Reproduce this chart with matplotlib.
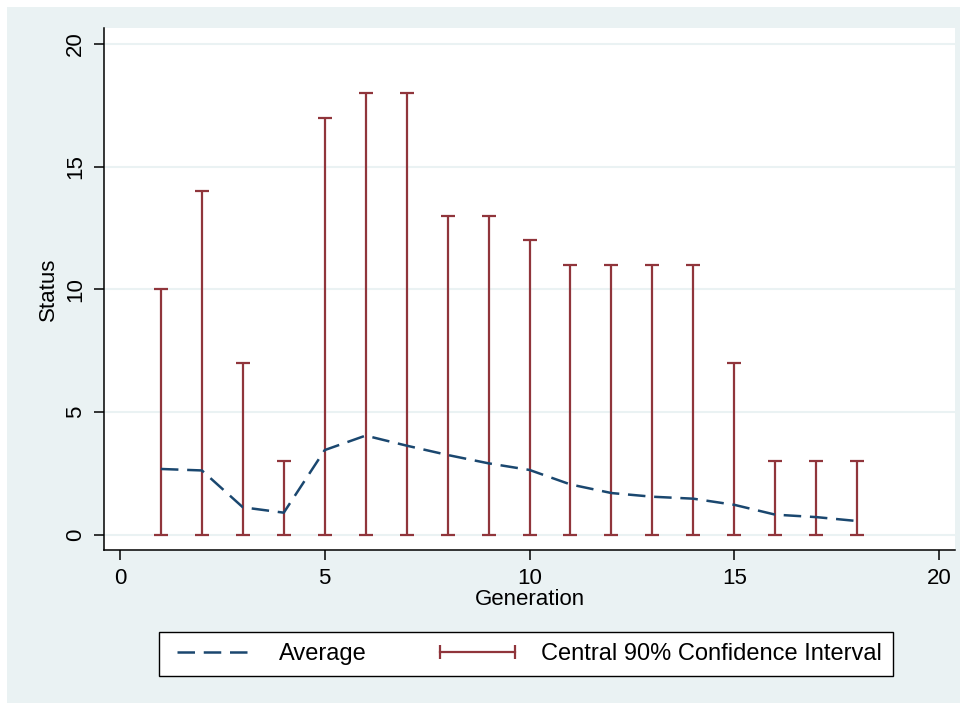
import matplotlib.pyplot as plt
from matplotlib.lines import Line2D
from matplotlib.patches import Rectangle

# data
generation = list(range(1, 19))
average = [2.69, 2.63, 1.13, 0.91, 3.46, 4.05, 3.64, 3.26, 2.92, 2.65,
           2.06, 1.71, 1.56, 1.48, 1.23, 0.83, 0.73, 0.57]
ci_low = [0] * 18
ci_high = [10, 14, 7, 3, 17, 18, 18, 13, 13, 12, 11, 11, 11, 11, 7, 3, 3, 3]

navy = '#1A476F'
maroon = '#90353B'
bg = '#EAF2F3'

plt.rcParams['font.family'] = ['Liberation Sans', 'DejaVu Sans']

fig = plt.figure(figsize=(9.67, 7.06), dpi=100)
fig.patch.set_facecolor('white')
# Stata-style background panel
fig.patches.append(Rectangle((7 / 967, 3 / 706), 953 / 967, 696 / 706,
                             transform=fig.transFigure, facecolor=bg,
                             edgecolor='none', zorder=-10))

ax = fig.add_axes([104 / 967, 1 - 550 / 706, 851 / 967, 522 / 706])
ax.set_facecolor('white')

ax.vlines(generation, ci_low, ci_high, color=maroon, lw=1.6, zorder=2)
ax.scatter(generation, ci_high, marker='_', s=100, color=maroon, lw=1.6, zorder=2)
ax.scatter(generation, ci_low, marker='_', s=100, color=maroon, lw=1.6, zorder=2)
ax.plot(generation, average, color=navy, lw=1.8, dashes=(7, 3.5), zorder=3)

ax.set_xlim(-0.39, 20.39)
ax.set_ylim(-0.61, 20.65)
ax.set_xticks([0, 5, 10, 15, 20])
ax.set_yticks([0, 5, 10, 15, 20])
ax.yaxis.grid(True, color=bg, lw=1.5)
ax.set_axisbelow(True)
for side in ['top', 'right']:
    ax.spines[side].set_visible(False)
for side in ['left', 'bottom']:
    ax.spines[side].set_linewidth(1.1)
ax.tick_params(labelsize=16, length=7, width=1.1, pad=6)
for lbl in ax.get_yticklabels():
    lbl.set_rotation(90)
    lbl.set_va('center')
ax.set_xlabel('Generation', fontsize=16, labelpad=0)
ax.set_ylabel('Status', fontsize=16, labelpad=4)

avg_handle = Line2D([], [], color=navy, lw=1.8, dashes=(7, 3.5))
ci_handle = Line2D([], [], color=maroon, lw=1.6, marker='|', markersize=10,
                   markeredgewidth=1.6)
leg = fig.legend([avg_handle, ci_handle],
                 ['Average', 'Central 90% Confidence Interval'],
                 loc='center', bbox_to_anchor=(526 / 967, 1 - 654 / 706),
                 ncol=2, numpoints=2, fontsize=17, handlelength=3.8,
                 columnspacing=2.8, fancybox=False, edgecolor='black',
                 framealpha=1, borderpad=0.45)
leg.get_frame().set_linewidth(1.0)

fig.savefig('out.png', dpi=100, facecolor=fig.get_facecolor())
